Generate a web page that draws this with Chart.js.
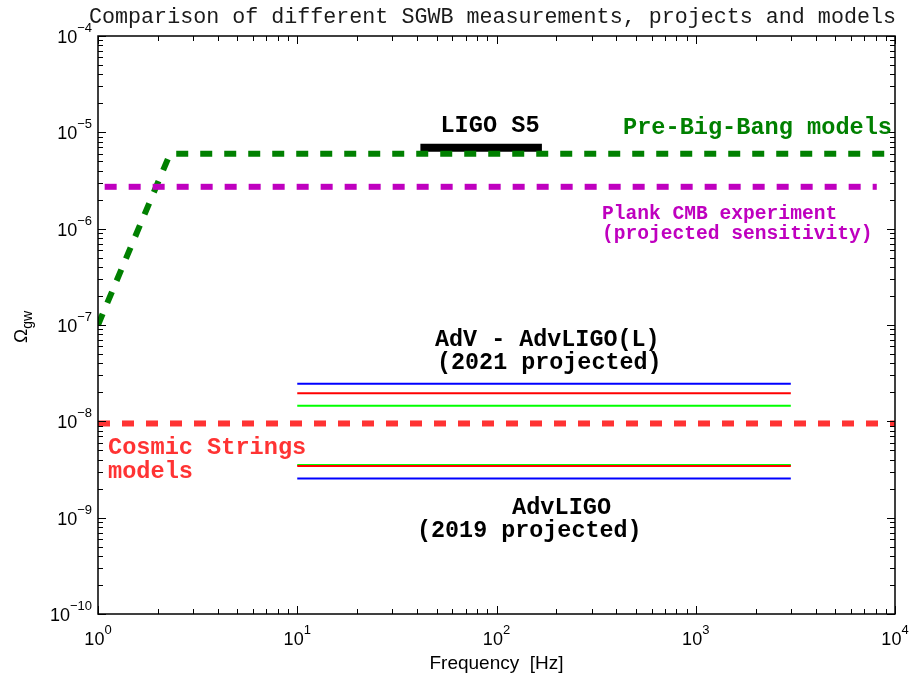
<!DOCTYPE html>
<html>
<head>
<meta charset="utf-8">
<script src="https://cdn.jsdelivr.net/npm/chart.js@4.4.0/dist/chart.umd.min.js"></script>
<style>
  html, body { margin: 0; padding: 0; background: #fff; }
  #wrap { width: 911px; height: 675px; position: relative; }
</style>
</head>
<body>
<div id="wrap"><canvas id="c"></canvas></div>
<script>
// frequency range and Omega_gw range of the axes
const freqRange = [1, 10000];
const omegaRange = [1e-10, 1e-4];

// model / measurement curves (Hz, Omega_gw)
const preBigBangFreq = [1, 2.3, 10000];
const preBigBangOmega = [1e-7, 6e-6, 6e-6];
const planckFreq = [1.08, 8100];
const planckOmega = [2.72e-6, 2.72e-6];
const ligoS5Freq = [41.5, 169];
const ligoS5Omega = [6.9e-6, 6.9e-6];
const cosmicFreq = [1, 10000];
const cosmicOmega = [9.5e-9, 9.5e-9];

// projected detector sensitivities, blue / red / green
const detectorBand = [10, 3000];
const adv2021Levels = [2.45e-8, 1.96e-8, 1.45e-8];
const adv2019Levels = [2.55e-9, 3.43e-9, 3.53e-9];

const pts = (xs, ys) => xs.map((x, i) => ({ x: x, y: ys[i] }));
const flat = (xs, v) => xs.map(x => ({ x: x, y: v }));

const detColors = ['#0000ff', '#ff0000', '#00ff00'];

function thinLine(data, color) {
  return { data: data, borderColor: color, borderWidth: 2, pointRadius: 0, fill: false, tension: 0 };
}

const datasets = [];
adv2021Levels.forEach((v, i) => datasets.push(thinLine(flat(detectorBand, v), detColors[i])));
adv2019Levels.forEach((v, i) => datasets.push(thinLine(flat(detectorBand, v), detColors[i])));
datasets.push({
  data: pts(cosmicFreq, cosmicOmega), borderColor: '#ff3333', borderWidth: 6,
  borderDash: [12, 12], borderCapStyle: 'butt', pointRadius: 0, fill: false
});
datasets.push({
  data: pts(planckFreq, planckOmega), borderColor: '#bf00bf', borderWidth: 6,
  borderDash: [12, 12], borderCapStyle: 'butt', pointRadius: 0, fill: false
});
datasets.push({
  data: pts(preBigBangFreq, preBigBangOmega), borderColor: '#008000', borderWidth: 6,
  borderDash: [12, 12], borderCapStyle: 'butt', pointRadius: 0, fill: false, tension: 0
});
datasets.push({
  data: pts(ligoS5Freq, ligoS5Omega), borderColor: '#000000', borderWidth: 8,
  pointRadius: 0, fill: false
});

const SANS = "'Liberation Sans', Arial, sans-serif";
const MONO = "'Liberation Mono', 'Courier New', monospace";

function powLabel(ctx, exp, x, y, mode) {
  ctx.font = '18px ' + SANS;
  const w10 = ctx.measureText('10').width;
  ctx.font = '13px ' + SANS;
  const es = exp < 0 ? '\u2212' + (-exp) : String(exp);
  const we = ctx.measureText(es).width;
  let x0;
  if (mode === 'x') x0 = x - (w10 + we) / 2;
  else x0 = x - (w10 + we);
  ctx.textAlign = 'left';
  ctx.textBaseline = 'alphabetic';
  ctx.fillStyle = '#000';
  ctx.font = '18px ' + SANS;
  ctx.fillText('10', x0, y);
  ctx.font = '13px ' + SANS;
  ctx.fillText(es, x0 + w10, y - 11);
}

function logTicks(scale) {
  const out = [];
  const e0 = Math.floor(Math.log10(scale.min));
  const e1 = Math.ceil(Math.log10(scale.max));
  for (let e = e0; e <= e1; e++) {
    for (let k = 1; k <= 9; k++) {
      const v = k * Math.pow(10, e);
      if (v < scale.min * 0.999 || v > scale.max * 1.001) continue;
      out.push({ v: v, major: k === 1, exp: e });
    }
  }
  return out;
}

const axesPlugin = {
  id: 'matlabAxes',
  afterDraw(chart) {
    const ctx = chart.ctx;
    const xs = chart.scales.x, ys = chart.scales.y;
    const a = chart.chartArea;
    ctx.save();

    // tick marks on all four sides, pointing inward
    ctx.strokeStyle = '#000';
    ctx.lineWidth = 1;
    logTicks(xs).forEach(t => {
      const px = Math.round(xs.getPixelForValue(t.v)) + 0.5;
      const len = t.major ? 8 : 5;
      ctx.beginPath();
      ctx.moveTo(px, a.bottom); ctx.lineTo(px, a.bottom - len);
      ctx.moveTo(px, a.top); ctx.lineTo(px, a.top + len);
      ctx.stroke();
      if (t.major) powLabel(ctx, t.exp, xs.getPixelForValue(t.v), a.bottom + 31, 'x');
    });
    logTicks(ys).forEach(t => {
      const py = Math.round(ys.getPixelForValue(t.v)) + 0.5;
      const len = t.major ? 8 : 5;
      ctx.beginPath();
      ctx.moveTo(a.left, py); ctx.lineTo(a.left + len, py);
      ctx.moveTo(a.right, py); ctx.lineTo(a.right - len, py);
      ctx.stroke();
      if (t.major) powLabel(ctx, t.exp, a.left - 6, ys.getPixelForValue(t.v) + 7, 'y');
    });

    // frame
    ctx.lineWidth = 1.5;
    ctx.strokeRect(a.left, a.top, a.right - a.left, a.bottom - a.top);

    // title
    ctx.fillStyle = '#1a1a1a';
    ctx.font = '21.7px ' + MONO;
    ctx.textAlign = 'center';
    ctx.textBaseline = 'alphabetic';
    ctx.fillText('Comparison of different SGWB measurements, projects and models', (a.left + a.right) / 2 - 4, 23);

    // x axis title
    ctx.fillStyle = '#000';
    ctx.font = '19px ' + SANS;
    ctx.fillText('Frequency  [Hz]', (a.left + a.right) / 2, 669);

    // y axis title: Omega with subscript gw
    ctx.save();
    ctx.translate(27, 327);
    ctx.rotate(-Math.PI / 2);
    ctx.font = '19px ' + SANS;
    const wO = ctx.measureText('\u03A9').width;
    ctx.font = '14px ' + SANS;
    const wG = ctx.measureText('gw').width;
    const sx = -(wO + wG) / 2;
    ctx.textAlign = 'left';
    ctx.font = '19px ' + SANS;
    ctx.fillText('\u03A9', sx, 0);
    ctx.font = '14px ' + SANS;
    ctx.fillText('gw', sx + wO, 5);
    ctx.restore();

    // annotations
    const label = (txt, x, y, color, size, align) => {
      ctx.font = 'bold ' + size + 'px ' + MONO;
      ctx.fillStyle = color;
      ctx.textAlign = align || 'left';
      ctx.textBaseline = 'middle';
      ctx.fillText(txt, x, y);
    };
    label('LIGO S5', 490, 126, '#000', 23.6, 'center');
    label('Pre-Big-Bang models', 623, 128, '#008000', 23.6);
    label('Plank CMB experiment', 602, 214, '#bf00bf', 19.6);
    label('(projected sensitivity)', 602, 234, '#bf00bf', 19.6);
    label('AdV - AdvLIGO(L)', 435, 340, '#000', 23.4);
    label('(2021 projected)', 437, 363, '#000', 23.4);
    label('AdvLIGO', 512, 508, '#000', 23.6);
    label('(2019 projected)', 417, 531, '#000', 23.4);
    label('Cosmic Strings', 108, 448, '#ff3333', 23.6);
    label('models', 108, 472, '#ff3333', 23.6);

    ctx.restore();
  }
};

new Chart(document.getElementById('c'), {
  type: 'line',
  data: { datasets: datasets },
  options: {
    animation: false,
    responsive: true,
    maintainAspectRatio: false,
    layout: { padding: { left: 98, right: 16, top: 36, bottom: 61 } },
    plugins: { legend: { display: false }, tooltip: { enabled: false } },
    scales: {
      x: { type: 'logarithmic', display: false, min: freqRange[0], max: freqRange[1], ticks: { autoSkip: false } },
      y: { type: 'logarithmic', display: false, min: omegaRange[0], max: omegaRange[1], ticks: { autoSkip: false } }
    }
  },
  plugins: [axesPlugin]
});
</script>
</body>
</html>
